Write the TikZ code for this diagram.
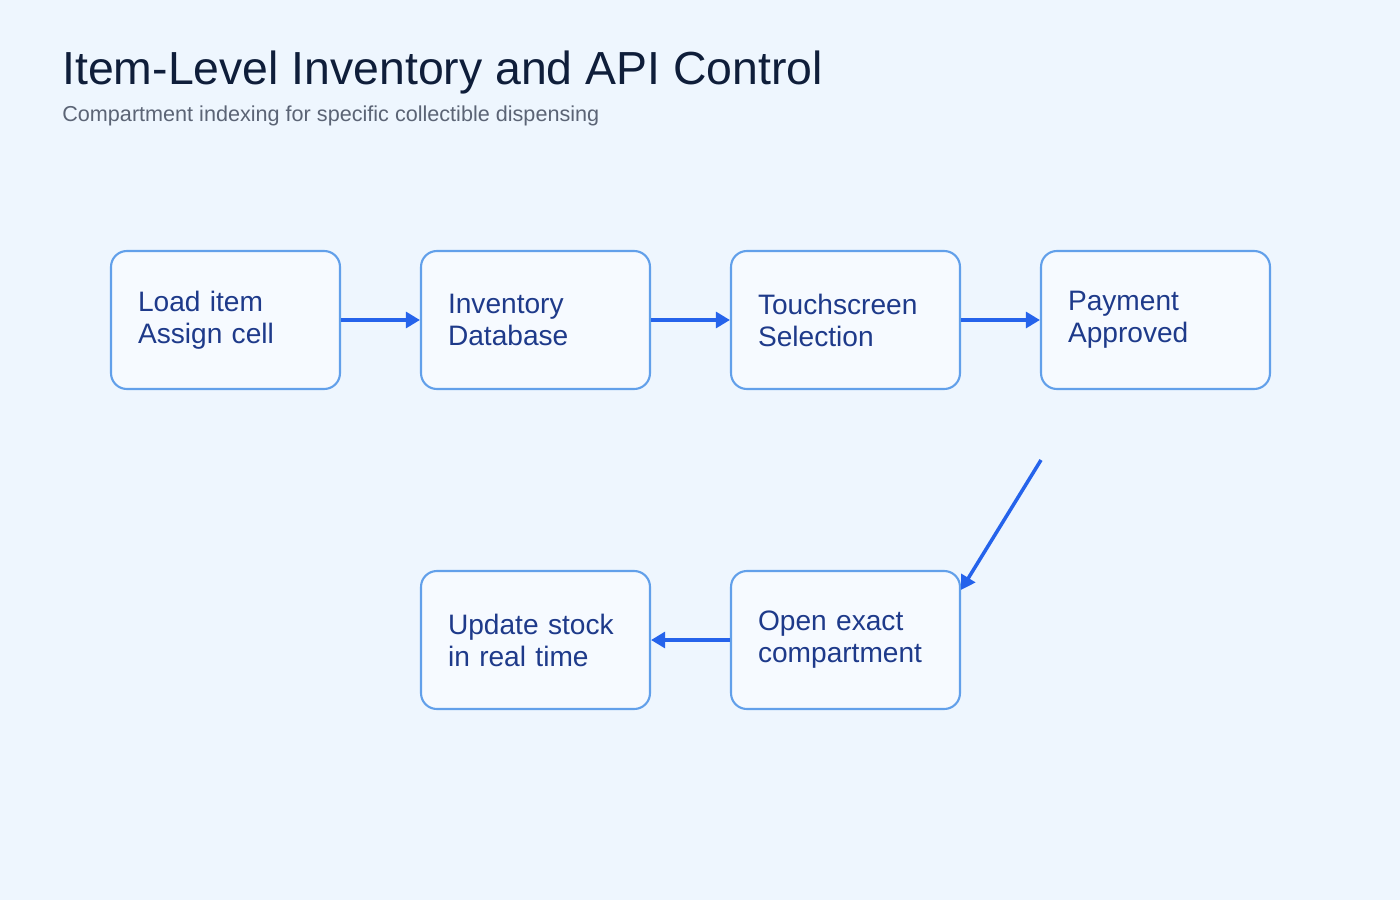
\documentclass[tikz,border=0pt]{standalone}
\usepackage{fontspec}
\setmainfont{Liberation Sans}
\usetikzlibrary{arrows.meta}
\definecolor{bgc}{HTML}{EEF6FE}
\definecolor{boxfill}{HTML}{F6FAFF}
\definecolor{boxline}{HTML}{62A0EA}
\definecolor{boxtext}{HTML}{1E3A8A}
\definecolor{flow}{HTML}{2563EB}
\definecolor{titlec}{HTML}{0F1E3A}
\definecolor{subc}{HTML}{5B6475}
\begin{document}
\begin{tikzpicture}[x=0.02cm,y=-0.02cm]
\tikzstyle{stage}=[rectangle,rounded corners=9pt,draw=boxline,line width=1.2pt,fill=boxfill,minimum width=4.58cm,minimum height=2.76cm,text width=3.5cm,align=left,text=boxtext,font=\fontsize{16}{18.2}\selectfont]
\tikzstyle{link}=[draw=flow,line width=2pt,-{Triangle[length=8pt,width=9pt]}]
\fill[bgc] (0,0) rectangle (1400,900);
\node[anchor=base west,text=titlec,font=\fontsize{26.4}{30}\selectfont,inner sep=0] (title) at (62,84) {Item-Level Inventory and API Control};
\node[anchor=base west,text=subc,font=\fontsize{12.3}{14}\selectfont,inner sep=0] (sub) at (62,121) {Compartment indexing for specific collectible dispensing};
\node[stage] (load) at (225.5,320) {Load item\\Assign cell};
\node[stage] (db) at (535.5,320) {Inventory\\Database};
\node[stage] (touch) at (845.5,320) {Touchscreen\\Selection};
\node[stage] (pay) at (1155.5,320) {Payment\\Approved};
\node[stage] (open) at (845.5,640) {Open exact\\compartment};
\node[stage] (upd) at (535.5,640) {Update stock\\in real time};
\coordinate (drop) at (1041,460);
\draw[link] (load) -- (db);
\draw[link] (db) -- (touch);
\draw[link] (touch) -- (pay);
\draw[link] (drop) -- ([yshift=-0.4cm]open.north east);
\draw[link] (open) -- (upd);
\end{tikzpicture}
\end{document}
